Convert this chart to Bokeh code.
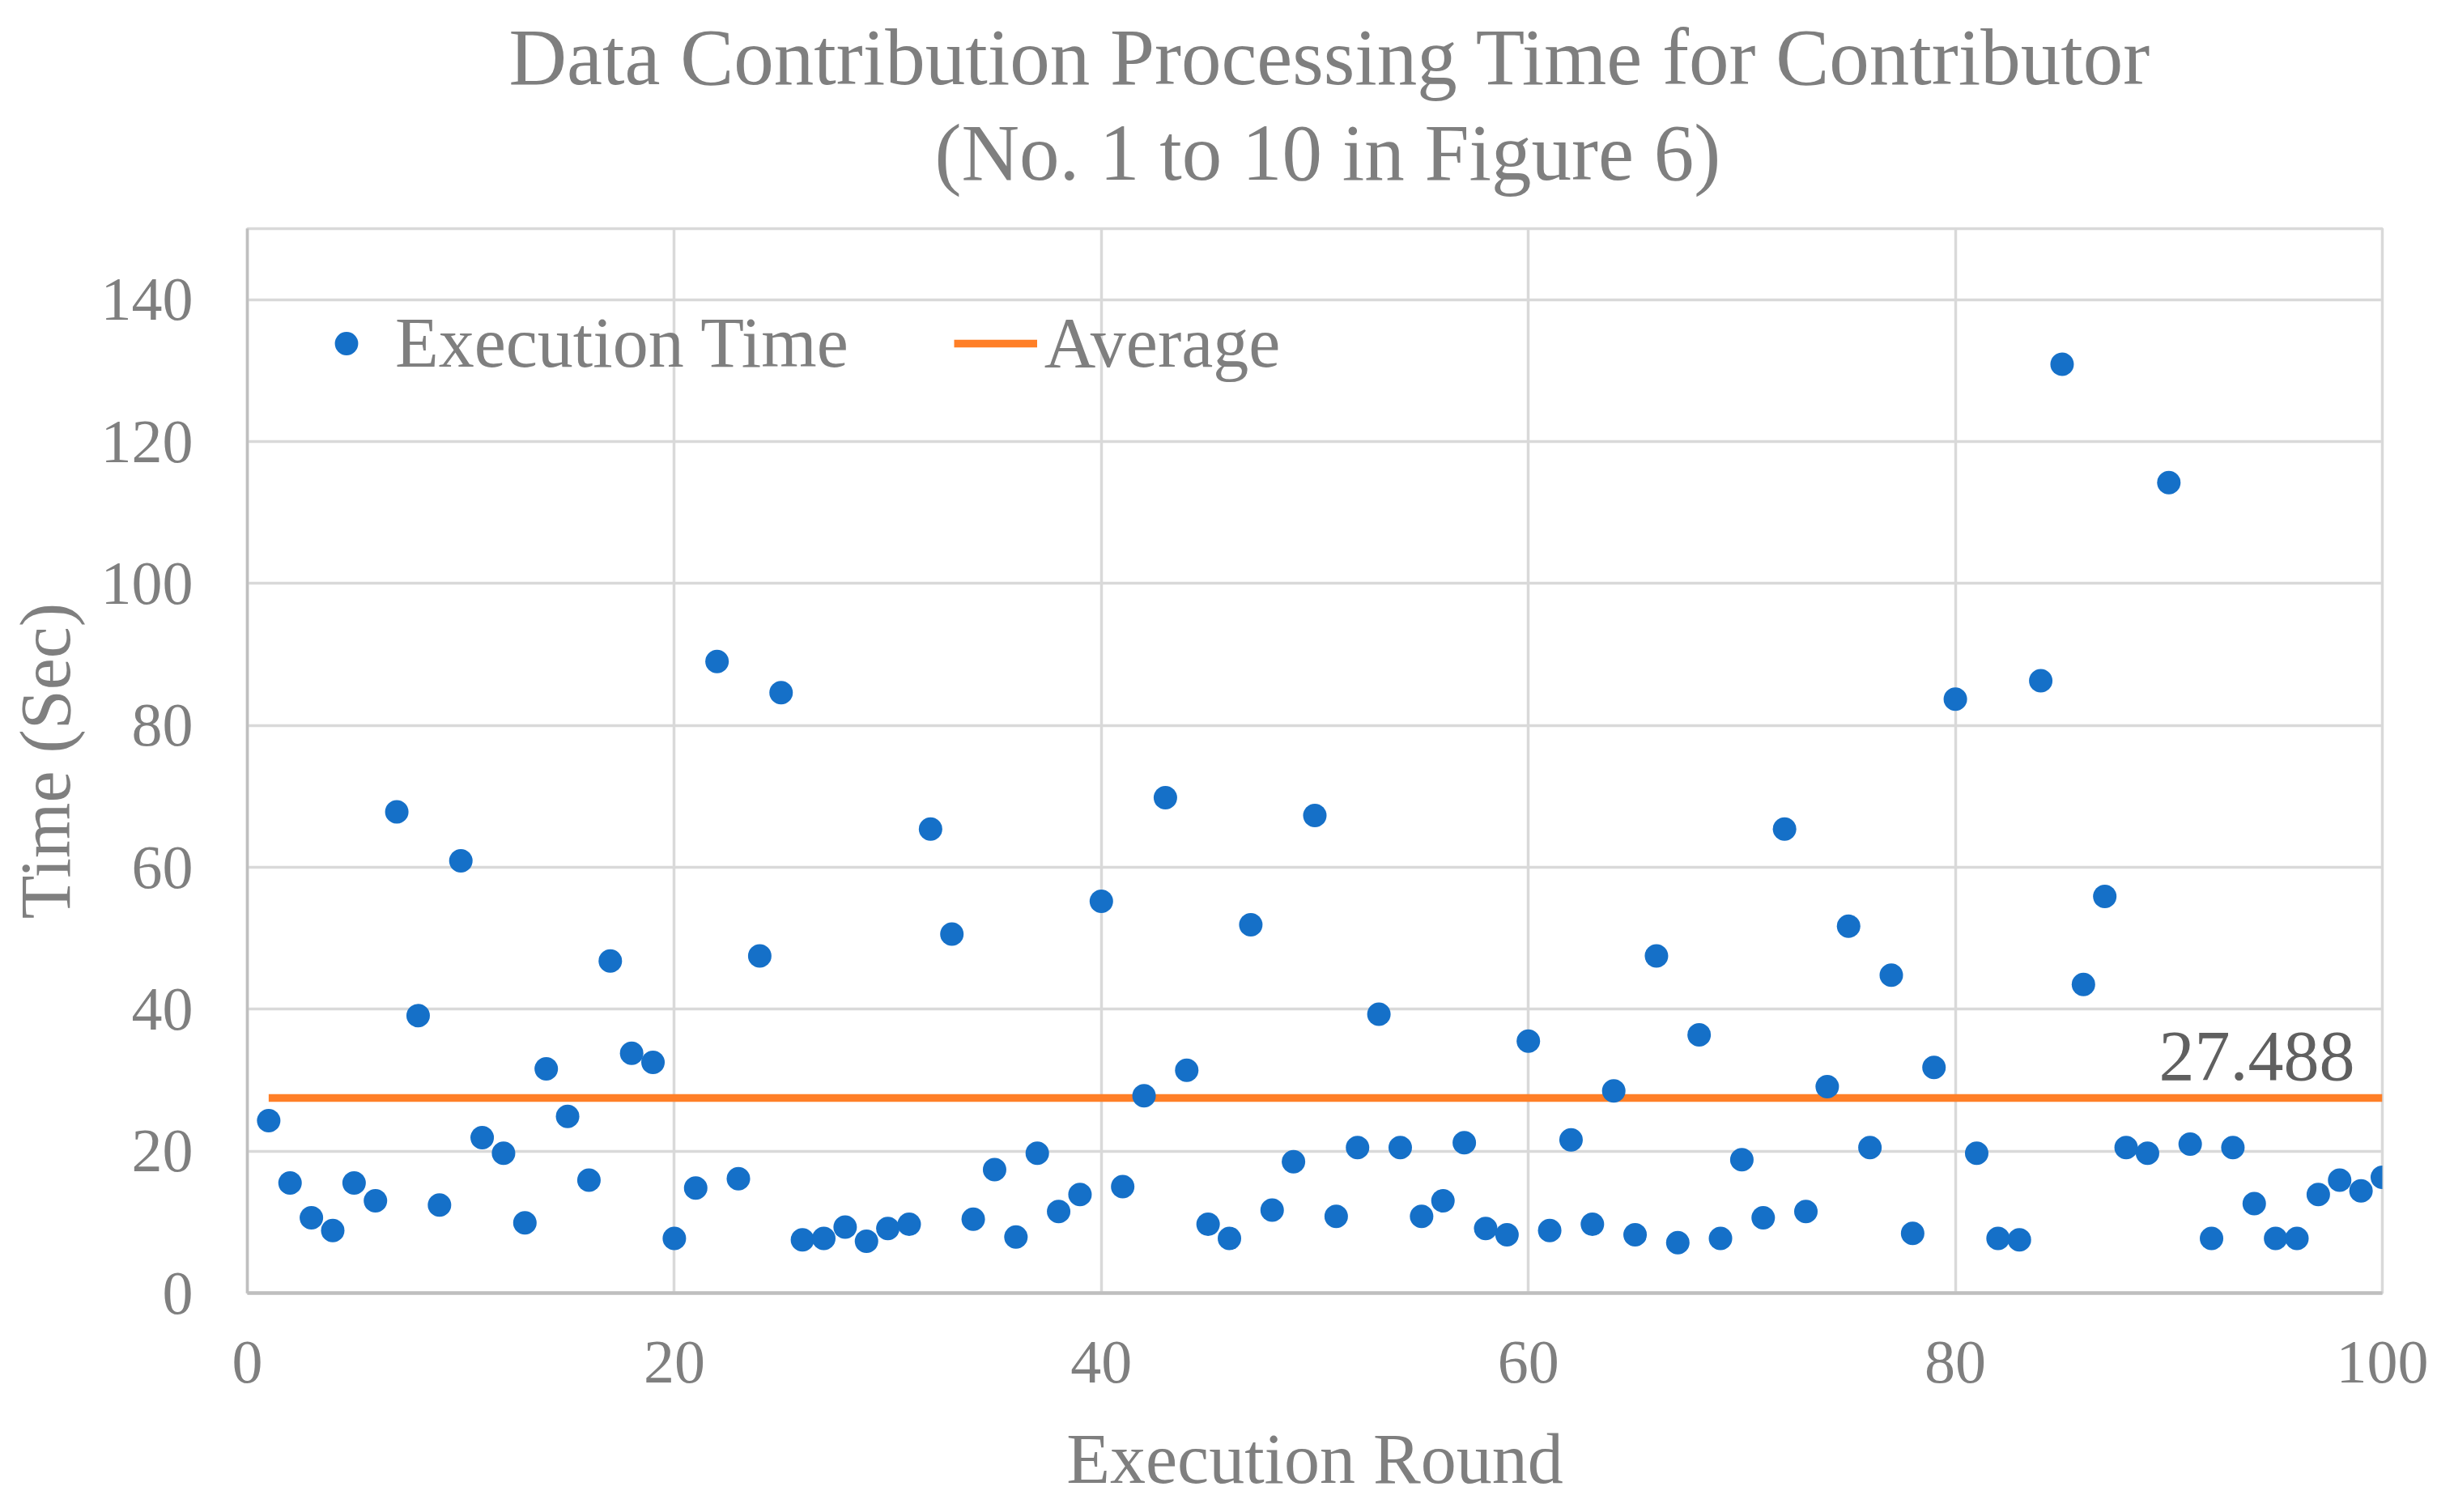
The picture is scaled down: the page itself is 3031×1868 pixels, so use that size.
from bokeh.plotting import figure
from bokeh.models import (Range1d, FixedTicker, Legend, LegendItem, Label, Title)
from bokeh.embed import file_html
from bokeh.resources import INLINE

# ---- data ----
rounds = list(range(1, 101))
exec_time = [
    24.3, 15.5, 10.6, 8.8, 15.5, 13.0, 67.8, 39.1, 12.4, 60.9,
    21.9, 19.7, 9.9, 31.6, 24.9, 15.9, 46.8, 33.8, 32.5, 7.7,
    14.8, 89.0, 16.1, 47.5, 84.6, 7.5, 7.7, 9.3, 7.3, 9.1,
    9.7, 65.4, 50.6, 10.4, 17.4, 7.9, 19.7, 11.5, 13.9, 55.2,
    15.0, 27.8, 69.8, 31.4, 9.7, 7.7, 51.9, 11.7, 18.5, 67.3,
    10.8, 20.5, 39.3, 20.5, 10.8, 13.0, 21.2, 9.1, 8.2, 35.5,
    8.8, 21.6, 9.7, 28.5, 8.2, 47.5, 7.1, 36.4, 7.7, 18.8,
    10.6, 65.4, 11.5, 29.1, 51.7, 20.5, 44.8, 8.4, 31.8, 83.7,
    19.7, 7.7, 7.5, 86.3, 130.9, 43.5, 55.9, 20.5, 19.7, 114.2,
    21.0, 7.7, 20.5, 12.6, 7.7, 7.7, 13.9, 15.9, 14.4, 16.3,
]
average = 27.488
average_label = "27.488"
x_ticks = [0, 20, 40, 60, 80, 100]
y_ticks = [0, 20, 40, 60, 80, 100, 120, 140]
title_lines = ["Data Contribution Processing Time for Contributor",
               "(No. 1 to 10 in Figure 6)"]
x_title = "Execution Round"
y_title = "Time (Sec)"

FONT = "Liberation Serif"
GREY = "#7f7f7f"
BLUE = "#1570c8"
ORANGE = "#ff7f27"

p = figure(frame_width=2637, frame_height=1315,
           output_backend="svg", toolbar_location=None,
           x_range=Range1d(0, 100), y_range=Range1d(0, 150),
           min_border_left=305, min_border_right=73,
           min_border_top=282, min_border_bottom=255)

# two-line title: second line closest to the frame
p.add_layout(Title(text=title_lines[1], align="left", offset=849, standoff=79,
                   text_font=FONT, text_font_size="99px", text_color=GREY,
                   text_font_style="normal"), "above")
p.add_layout(Title(text=title_lines[0], align="left", offset=323, standoff=-64,
                   text_font=FONT, text_font_size="99px", text_color=GREY,
                   text_font_style="normal"), "above")

p.outline_line_color = "#d9d9d9"
p.outline_line_width = 3.5

for ax in (p.xaxis, p.yaxis):
    ax.major_tick_line_color = None
    ax.minor_tick_line_color = None
    ax.major_label_text_font = FONT
    ax.major_label_text_font_size = "76px"
    ax.major_label_text_color = GREY
    ax.axis_label_text_font = FONT
    ax.axis_label_text_font_size = "88px"
    ax.axis_label_text_color = GREY
    ax.axis_label_text_font_style = "normal"
    ax.axis_line_color = "#bfbfbf"

p.xaxis.axis_line_width = 4.5
p.yaxis.axis_line_width = 3.5
p.xaxis.ticker = FixedTicker(ticks=x_ticks)
p.yaxis.ticker = FixedTicker(ticks=y_ticks)
p.xaxis.axis_label = x_title
p.yaxis.axis_label = y_title
p.xaxis.major_label_standoff = 54
p.yaxis.major_label_standoff = 61
p.xaxis.axis_label_standoff = 43
p.yaxis.axis_label_standoff = 17

p.xgrid.ticker = FixedTicker(ticks=x_ticks)
p.ygrid.ticker = FixedTicker(ticks=y_ticks)
for g in (p.xgrid, p.ygrid):
    g.grid_line_color = "#d9d9d9"
    g.grid_line_width = 3.5

avg_line = p.line(x=[rounds[0], rounds[-1]], y=[average, average],
                  line_color=ORANGE, line_width=9.5)
pts = p.scatter(x=rounds, y=exec_time, size=29, fill_color=BLUE,
                line_color=None, marker="circle")

# value label for the average line
p.add_layout(Label(x=rounds[-1], y=average, text=average_label,
                   x_offset=-34, y_offset=23, text_align="right",
                   text_baseline="bottom", text_font=FONT,
                   text_font_size="88px", text_color="#606060"))

legend = Legend(items=[LegendItem(label="Execution Time", renderers=[pts]),
                       LegendItem(label="Average", renderers=[avg_line])],
                orientation="horizontal", location=(71, 1123),
                glyph_width=103, glyph_height=72, label_height=72,
                label_standoff=9, spacing=130, padding=0, margin=0,
                border_line_color=None, background_fill_alpha=0,
                label_text_font=FONT, label_text_font_size="88px",
                label_text_color=GREY)
p.add_layout(legend, "center")

open("out.html", "w").write(file_html(p, INLINE))
